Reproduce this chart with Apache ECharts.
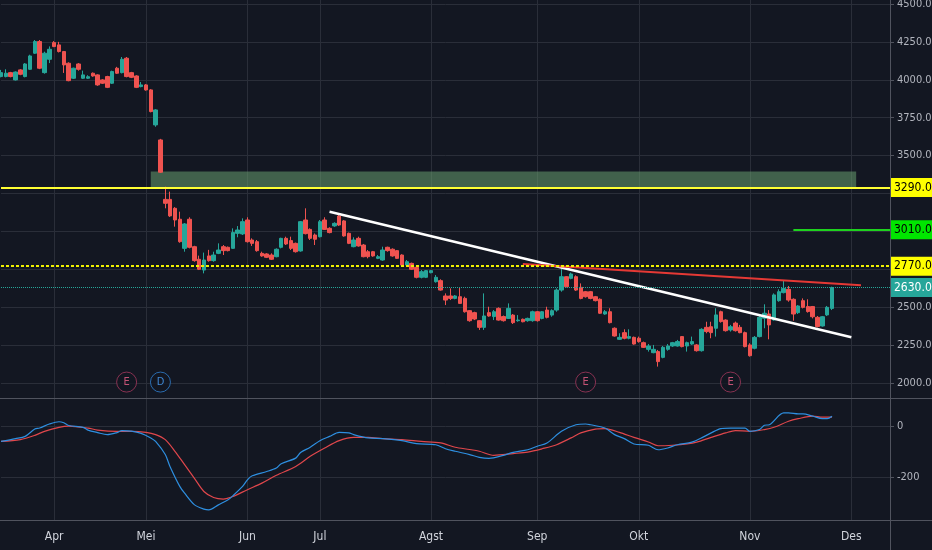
<!DOCTYPE html>
<html>
<head>
<meta charset="utf-8">
<script src="https://cdn.jsdelivr.net/npm/echarts@6.0.0/dist/echarts.min.js"></script>
<style>
  html, body { margin: 0; padding: 0; background: #131722; }
  #chart { width: 932px; height: 550px; }
</style>
</head>
<body>
<div id="chart"></div>
<script>
// trading days (IDX 2019), holidays skipped
const holidays = ['2019-04-03', '2019-04-17', '2019-04-19', '2019-05-01', '2019-05-30',
  '2019-06-03', '2019-06-04', '2019-06-05', '2019-06-06', '2019-06-07'];
const monthNames = ['Jan', 'Feb', 'Mar', 'Apr', 'Mei', 'Jun', 'Jul', 'Agst', 'Sep', 'Okt', 'Nov', 'Des'];
const days = [];
for (let d = new Date(Date.UTC(2019, 2, 15)); days.length < 185; d.setUTCDate(d.getUTCDate() + 1)) {
  const s = d.toISOString().slice(0, 10);
  const wd = d.getUTCDay();
  if (wd !== 0 && wd !== 6 && holidays.indexOf(s) < 0) days.push(s);
}

const opens = [
  4021, 4021, 4047, 3999, 4065, 4021, 4069, 4175, 4252, 4047,
  4135, 4245, 4230, 4186, 4109, 4010, 4104, 4010, 4010, 4043,
  4032, 3999, 4021, 3977, 4076, 4047, 4142, 4047, 4025, 3955,
  3966, 3933, 3702, 3603, 3211, 3211, 3152, 3080, 2888, 3080,
  2899, 2816, 2745, 2838, 2807, 2855, 2899, 2895, 2888, 2987,
  2983, 3075, 2943, 2932, 2855, 2851, 2844, 2833, 2895, 2954,
  2939, 2921, 2871, 3075, 3013, 2976, 2965, 3075, 3020, 3036,
  3101, 3069, 2987, 2899, 2954, 2910, 2866, 2866, 2822, 2811,
  2895, 2882, 2873, 2844, 2778, 2789, 2763, 2697, 2697, 2728,
  2668, 2675, 2574, 2574, 2558, 2569, 2558, 2477, 2464, 2411,
  2367, 2464, 2438, 2492, 2438, 2426, 2448, 2411, 2420, 2411,
  2411, 2470, 2426, 2481, 2448, 2481, 2613, 2701, 2690, 2701,
  2631, 2602, 2602, 2569, 2552, 2455, 2470, 2361, 2288, 2332,
  2295, 2301, 2295, 2266, 2222, 2200, 2207, 2169, 2222, 2244,
  2244, 2306, 2244, 2257, 2251, 2213, 2367, 2371, 2361, 2470,
  2415, 2350, 2395, 2367, 2332, 2251, 2229, 2306, 2427, 2455,
  2416, 2543, 2596, 2618, 2552, 2464, 2543, 2504, 2504, 2433,
  2376, 2449, 2492
];
const closes = [
  4047, 4043, 4021, 4051, 4036, 4104, 4157, 4252, 4076, 4175,
  4201, 4219, 4186, 4098, 3994, 4076, 4069, 4032, 4020, 4025,
  3966, 3977, 3950, 4054, 4043, 4135, 4021, 4016, 3950, 3966,
  3933, 3790, 3801, 3390, 3185, 3102, 3075, 2932, 3049, 2895,
  2807, 2750, 2811, 2807, 2844, 2877, 2873, 2873, 2992, 3009,
  3064, 2932, 2921, 2873, 2838, 2829, 2816, 2882, 2954, 2917,
  2888, 2866, 3064, 2985, 2954, 2948, 3064, 3013, 2992, 3053,
  3042, 2970, 2921, 2943, 2904, 2833, 2833, 2838, 2833, 2877,
  2873, 2838, 2822, 2778, 2800, 2750, 2697, 2734, 2741, 2741,
  2697, 2613, 2547, 2558, 2574, 2525, 2470, 2411, 2422, 2367,
  2442, 2442, 2470, 2415, 2411, 2492, 2398, 2415, 2404, 2426,
  2470, 2411, 2470, 2433, 2477, 2613, 2701, 2635, 2719, 2613,
  2558, 2569, 2558, 2543, 2460, 2470, 2398, 2310, 2301, 2295,
  2306, 2257, 2273, 2235, 2244, 2222, 2141, 2235, 2244, 2266,
  2273, 2240, 2266, 2273, 2213, 2354, 2339, 2332, 2449, 2405,
  2345, 2371, 2345, 2332, 2240, 2180, 2301, 2433, 2460, 2383,
  2581, 2602, 2624, 2547, 2455, 2508, 2499, 2471, 2437, 2372,
  2437, 2499, 2630
];
const lows = [
  4016, 4016, 4016, 3995, 4030, 4016, 4065, 4170, 4070, 4040,
  4110, 4215, 4180, 4045, 3990, 4005, 4060, 4005, 4005, 4020,
  3960, 3972, 3945, 3972, 4038, 4042, 4016, 4011, 3945, 3950,
  3928, 3785, 3690, 3385, 3152, 3095, 3031, 2925, 2866, 2888,
  2800, 2745, 2723, 2800, 2800, 2850, 2844, 2868, 2885, 2961,
  2976, 2926, 2904, 2866, 2833, 2824, 2811, 2829, 2888, 2910,
  2877, 2860, 2866, 2980, 2943, 2910, 2960, 3009, 2987, 3030,
  3036, 2965, 2916, 2895, 2899, 2829, 2822, 2833, 2817, 2806,
  2866, 2833, 2818, 2772, 2772, 2745, 2690, 2690, 2692, 2723,
  2662, 2609, 2514, 2547, 2552, 2521, 2464, 2404, 2415, 2350,
  2350, 2437, 2415, 2411, 2405, 2422, 2389, 2404, 2400, 2404,
  2404, 2405, 2420, 2426, 2437, 2470, 2602, 2631, 2684, 2607,
  2552, 2563, 2552, 2538, 2455, 2450, 2393, 2306, 2284, 2288,
  2288, 2253, 2266, 2231, 2207, 2196, 2108, 2163, 2213, 2238,
  2240, 2235, 2207, 2251, 2207, 2207, 2328, 2295, 2306, 2398,
  2339, 2339, 2339, 2328, 2235, 2174, 2222, 2301, 2361, 2288,
  2411, 2536, 2591, 2536, 2411, 2455, 2492, 2464, 2426, 2367,
  2372, 2442, 2481
];
const highs = [
  4065, 4069, 4052, 4055, 4070, 4110, 4165, 4262, 4262, 4185,
  4220, 4255, 4250, 4190, 4115, 4080, 4110, 4060, 4030, 4048,
  4036, 4004, 4026, 4060, 4085, 4150, 4150, 4052, 4030, 3985,
  3972, 3938, 3806, 3610, 3295, 3262, 3160, 3130, 3055, 3093,
  2905, 2840, 2860, 2878, 2866, 2921, 2910, 2900, 3020, 3035,
  3086, 3093, 2954, 2943, 2866, 2856, 2855, 2888, 2958, 2965,
  2965, 2926, 3068, 3152, 3020, 2986, 3075, 3093, 3027, 3060,
  3108, 3075, 2992, 2961, 2965, 2917, 2877, 2871, 2844, 2899,
  2899, 2888, 2877, 2849, 2811, 2794, 2767, 2745, 2745, 2745,
  2712, 2684, 2591, 2624, 2580, 2631, 2569, 2481, 2470, 2415,
  2591, 2503, 2481, 2499, 2445, 2525, 2455, 2448, 2425, 2431,
  2477, 2475, 2475, 2503, 2486, 2624, 2756, 2705, 2728, 2710,
  2657, 2607, 2607, 2574, 2558, 2481, 2493, 2367, 2328, 2354,
  2354, 2306, 2306, 2273, 2257, 2251, 2218, 2244, 2257, 2271,
  2284, 2310, 2273, 2306, 2257, 2361, 2404, 2404, 2493, 2477,
  2420, 2383, 2405, 2383, 2339, 2262, 2310, 2442, 2519, 2481,
  2591, 2618, 2675, 2640, 2558, 2514, 2558, 2552, 2508, 2442,
  2442, 2508, 2635
];

// MACD panel, [day index, value]
const macdLine = [
  [0, -60], [3, -49], [5, -40], [7, -11], [8, -7], [10, 9], [12, 18], [13, 14], [14, 3], [17, -4],
  [18, -15], [20, -25], [22, -33], [24, -25], [25, -17], [27, -19], [29, -28], [31, -46], [32, -60],
  [34, -112], [35, -160], [37, -238], [38, -265], [40, -310], [42, -328], [43, -331], [45, -311],
  [47, -291], [48, -275], [50, -238], [51, -212], [52, -196], [55, -179], [57, -165], [58, -148],
  [61, -126], [62, -104], [64, -83], [66, -57], [68, -40], [70, -24], [72, -26], [73, -33], [76, -46],
  [79, -49], [83, -57], [86, -69], [90, -73], [92, -89], [94, -99], [97, -112], [99, -123], [101, -127],
  [104, -115], [106, -103], [109, -93], [111, -79], [113, -66], [116, -20], [119, 6], [121, 9], [122, 6],
  [125, -7], [127, -33], [129, -49], [131, -70], [134, -75], [136, -93], [138, -86], [140, -73],
  [143, -63], [145, -46], [147, -26], [149, -9], [151, -7], [154, -7], [155, -20], [157, -13], [158, 4],
  [159, 6], [162, 53], [163, 53], [165, 49], [166, 49], [168, 40], [170, 30], [171, 30], [172, 40]
];
const signalLine = [
  [0, -60], [4, -53], [7, -36], [9, -20], [12, -4], [14, 1], [18, -7], [20, -15], [24, -20], [27, -20],
  [30, -24], [32, -33], [34, -53], [36, -99], [38, -152], [40, -205], [42, -258], [44, -282], [46, -288],
  [48, -278], [51, -251], [54, -225], [57, -194], [61, -159], [64, -119], [67, -86], [70, -57], [73, -44],
  [76, -44], [79, -49], [83, -53], [87, -60], [91, -66], [94, -83], [97, -92], [99, -99], [102, -115],
  [106, -108], [109, -102], [112, -89], [115, -73], [118, -46], [120, -26], [123, -11], [125, -9],
  [128, -24], [131, -44], [134, -62], [136, -77], [139, -75], [142, -70], [144, -63], [147, -44],
  [150, -26], [152, -17], [155, -20], [158, -13], [160, -4], [163, 20], [165, 30], [168, 40], [170, 36],
  [172, 36]
];

const priceTicks = [2000, 2250, 2500, 2750, 3000, 3250, 3500, 3750, 4000, 4250, 4500];
const macdTicks = [-200, 0];

// drawings
const resistance = 3290;
const support = 2770;
const target = 3010;
const zone = [3290, 3395];
const zoneDays = [31, 177];
const targetDays = [164, 184];
const whiteTrend = [[68, 3130], [176, 2302]];
const redTrend = [[108, 2785], [178, 2645]];
const markerLevel = 2006;
const events = [[26, 'E'], [33, 'D'], [121, 'E'], [151, 'E']];

const BG = '#131722', GRID = '#2a2e39', FRAME = '#50535e', TXT = '#b2b5be';
const UP = '#26a69a', DOWN = '#ef5350';
const FONT = '"Liberation Sans Narrow", "DejaVu Sans Condensed", Roboto, sans-serif';

const ohlc = opens.map((o, i) => [o, closes[i], lows[i], highs[i]]);
const lastPrice = closes[closes.length - 1];
const monthStart = (i) => i > 0 && days[i].slice(0, 7) !== days[i - 1].slice(0, 7);

function tag(bg, fg, text) {
  return {
    show: true, position: 'end', distance: 0, formatter: text,
    backgroundColor: bg, color: fg, padding: [4, 1, 3, 4],
    fontSize: 12, fontFamily: FONT
  };
}

const chart = echarts.init(document.getElementById('chart'));
chart.setOption({
  backgroundColor: BG,
  animation: false,
  grid: [
    { left: 1, right: 42, top: 0, height: 398, containLabel: false, outerBoundsMode: 'none' },
    { left: 1, right: 42, top: 399, height: 121, containLabel: false, outerBoundsMode: 'none' }
  ],
  xAxis: [
    {
      type: 'category', gridIndex: 0, data: days, boundaryGap: false,
      axisLine: { show: false }, axisTick: { show: false }, axisLabel: { show: false },
      splitLine: { show: true, interval: monthStart, lineStyle: { color: GRID } }
    },
    {
      type: 'category', gridIndex: 1, data: days, boundaryGap: false,
      axisLine: { show: false }, axisTick: { show: false },
      axisLabel: {
        interval: monthStart, formatter: v => monthNames[+v.slice(5, 7) - 1],
        color: '#d1d4dc', fontSize: 12, margin: 11, fontFamily: FONT
      },
      splitLine: { show: true, interval: monthStart, lineStyle: { color: GRID } }
    }
  ],
  yAxis: [
    {
      type: 'value', gridIndex: 0, position: 'right', min: 1901, max: 4526,
      axisLine: { show: false },
      axisTick: { show: true, length: 4, customValues: priceTicks, lineStyle: { color: FRAME } },
      axisLabel: {
        customValues: priceTicks, formatter: v => v.toFixed(1),
        color: TXT, fontSize: 11, margin: 7, fontFamily: FONT
      },
      splitLine: { show: true, lineStyle: { color: GRID } }
    },
    {
      type: 'value', gridIndex: 1, position: 'right', min: -371, max: 108,
      axisLine: { show: false },
      axisTick: { show: true, length: 4, customValues: macdTicks, lineStyle: { color: FRAME } },
      axisLabel: {
        customValues: macdTicks, formatter: v => String(v),
        color: TXT, fontSize: 11, margin: 7, fontFamily: FONT
      },
      splitLine: { show: true, lineStyle: { color: GRID } }
    }
  ],
  graphic: [
    { type: 'line', shape: { x1: 0, y1: 398.5, x2: 932, y2: 398.5 }, style: { stroke: FRAME, lineWidth: 1 }, z: 10 },
    { type: 'line', shape: { x1: 0, y1: 520.5, x2: 932, y2: 520.5 }, style: { stroke: FRAME, lineWidth: 1 }, z: 10 },
    { type: 'line', shape: { x1: 890.5, y1: 0, x2: 890.5, y2: 550 }, style: { stroke: FRAME, lineWidth: 1 }, z: 10 }
  ],
  series: [
    {
      type: 'candlestick', xAxisIndex: 0, yAxisIndex: 0, data: ohlc, barWidth: 4,
      itemStyle: { color: UP, color0: DOWN, borderColor: UP, borderColor0: DOWN, borderWidth: 1 },
      markArea: {
        silent: true,
        itemStyle: { color: 'rgba(104,159,112,0.55)' },
        data: [[{ coord: [zoneDays[0], zone[0]] }, { coord: [zoneDays[1], zone[1]] }]]
      },
      markLine: {
        silent: true, symbol: ['none', 'none'], animation: false,
        data: [
          { yAxis: lastPrice, lineStyle: { color: UP, width: 1, type: 'dotted' },
            label: tag(UP, '#ffffff', lastPrice.toFixed(1)) },
          { yAxis: support, lineStyle: { color: '#f0f000', width: 2, type: [3, 2] },
            label: tag('#ffff00', '#000000', support.toFixed(1)) },
          { yAxis: resistance, lineStyle: { color: '#ffff33', width: 2, type: 'solid' },
            label: tag('#ffff00', '#000000', resistance.toFixed(1)) },
          [
            { coord: [targetDays[0], target], lineStyle: { color: '#1ed21e', width: 2, type: 'solid' },
              label: tag('#00e600', '#000000', target.toFixed(1)) },
            { coord: [targetDays[1], target], lineStyle: { color: '#1ed21e', width: 2, type: 'solid' },
              label: tag('#00e600', '#000000', target.toFixed(1)) }
          ]
        ]
      }
    },
    {
      type: 'line', xAxisIndex: 0, yAxisIndex: 0, data: whiteTrend, symbol: 'none', z: 4,
      lineStyle: { color: '#ffffff', width: 2.5 }
    },
    {
      type: 'line', xAxisIndex: 0, yAxisIndex: 0, data: redTrend, symbol: 'none', z: 4,
      lineStyle: { color: '#e53935', width: 2 }
    },
    {
      type: 'scatter', xAxisIndex: 0, yAxisIndex: 0, symbol: 'circle', symbolSize: 20, z: 5,
      itemStyle: { color: BG, borderWidth: 1 },
      label: { show: true, position: 'inside', fontSize: 11, fontFamily: FONT },
      data: events.map(([i, t]) => ({
        value: [i, markerLevel],
        itemStyle: { borderColor: t === 'E' ? '#a3385c' : '#2f80d0' },
        label: { formatter: t, color: t === 'E' ? '#f0628a' : '#4aa3ff' }
      }))
    },
    {
      type: 'line', xAxisIndex: 1, yAxisIndex: 1, data: signalLine, symbol: 'none', smooth: 0.3,
      lineStyle: { color: '#e0474c', width: 1.2 }
    },
    {
      type: 'line', xAxisIndex: 1, yAxisIndex: 1, data: macdLine, symbol: 'none', smooth: 0.3,
      lineStyle: { color: '#2e8fe0', width: 1.2 }
    }
  ]
});
</script>
</body>
</html>
